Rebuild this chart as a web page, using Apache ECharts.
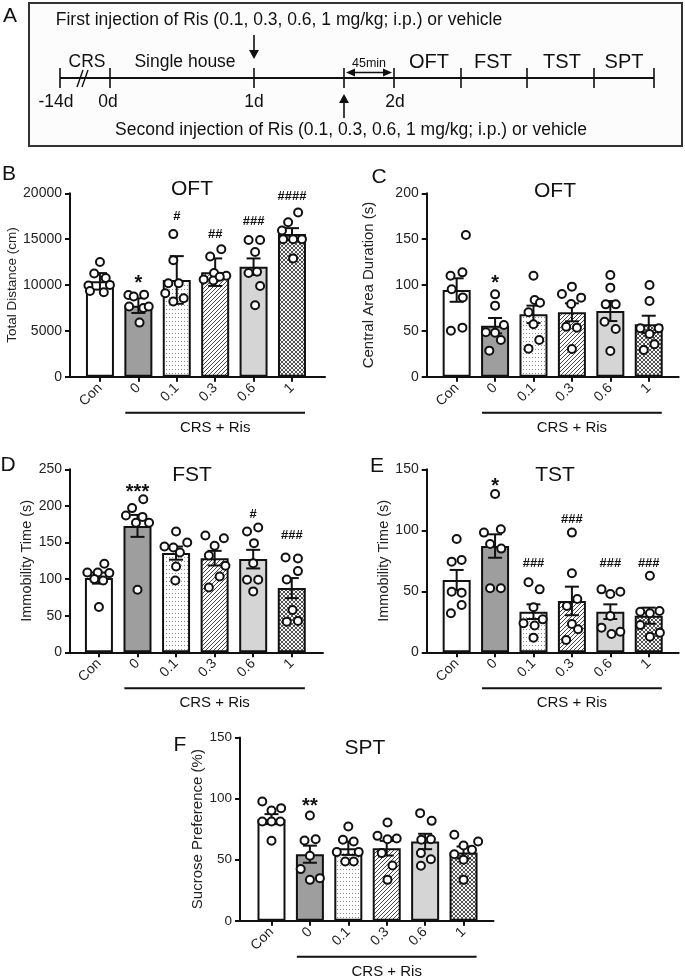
<!DOCTYPE html>
<html><head><meta charset="utf-8">
<script src="https://cdn.jsdelivr.net/npm/echarts@6/dist/echarts.min.js"></script>
<style>html,body{margin:0;padding:0;background:#fff}#c{width:685px;height:976px}</style>
</head><body><div id="c"></div>
<script>
// ---------------- data ----------------
const categories = ['Con', '0', '0.1', '0.3', '0.6', '1'];
const bracketLabel = 'CRS + Ris';

// Panel B  (OFT total distance)
const titleB = 'OFT';
const yNameB = 'Total Distance (cm)';
const yTicksB = [0, 5000, 10000, 15000, 20000];
const meansB = [10400, 7750, 10550, 11400, 12000, 15550];
const semB = [900, 800, 2600, 1500, 900, 650];
const pointsB = [
  [[0, 12500], [-0.15, 11250], [0.15, 10750], [-0.3, 9950], [0.26, 10000], [-0.26, 9350], [0.1, 9200]],
  [[-0.26, 8900], [-0.12, 8750], [0.15, 8950], [-0.24, 7650], [0.13, 7500], [0.27, 7650], [0.03, 5900]],
  [[-0.09, 15550], [-0.09, 12700], [-0.22, 10200], [0.05, 10200], [-0.3, 9100], [0.18, 8550], [-0.09, 8200]],
  [[-0.13, 13100], [0.16, 13900], [-0.03, 11300], [0.29, 11000], [-0.3, 10600], [-0.05, 10500], [0.12, 10900]],
  [[-0.13, 14900], [0.17, 14900], [0.04, 13600], [-0.13, 11300], [0.09, 11450], [0.17, 9900], [0.04, 7800]],
  [[0.16, 17900], [-0.1, 16850], [-0.26, 15950], [-0.23, 15000], [0.03, 15000], [0.26, 15000], [0.03, 12900]]
];
const annB = ['', '*', '#', '##', '###', '####'];
const annYB = [0, 10760, 17450, 15560, 16900, 19630];

// Panel C  (OFT central area duration)
const titleC = 'OFT';
const yNameC = 'Central Area Duration (s)';
const yTicksC = [0, 50, 100, 150, 200];
const meansC = [94.5, 55.6, 68, 70.2, 71.6, 57.1];
const semC = [12.8, 8.4, 9.5, 9.8, 10.9, 9.4];
const pointsC = [
  [[0.24, 154.5], [0.15, 113.8], [-0.16, 110], [-0.13, 95.3], [0.16, 86.5], [-0.15, 50.2], [0.15, 53.5]],
  [[0, 89.8], [0, 77.5], [0.23, 56.4], [-0.24, 48.4], [0, 48], [0.15, 40], [-0.15, 28.4]],
  [[0, 110], [0.03, 83.6], [0.17, 80.7], [-0.13, 70.2], [0, 57.1], [0.15, 40], [-0.13, 30.5]],
  [[-0.26, 90.2], [0, 98.2], [0.24, 86.2], [-0.02, 79.3], [-0.15, 54.5], [0.13, 53.5], [0, 30.2]],
  [[0, 110.9], [0, 97.1], [0.14, 78.9], [-0.12, 78.9], [-0.15, 60], [0.14, 52], [0, 28]],
  [[0.02, 100], [0.02, 82.5], [-0.22, 52.7], [0.26, 52.7], [0.02, 46.5], [0.15, 35.3], [-0.13, 29.1]]
];
const annC = ['', '*', '', '', '', ''];
const annYC = [0, 107.3, 0, 0, 0, 0];

// Panel D  (FST immobility)
const titleD = 'FST';
const yNameD = 'Immobility Time (s)';
const yTicksD = [0, 50, 100, 150, 200, 250];
const meansD = [101.4, 172.7, 135.5, 128.6, 127.3, 87.7];
const semD = [7.6, 15, 9, 10, 12.7, 13.7];
const pointsD = [
  [[0.14, 120.9], [-0.3, 109], [-0.03, 109], [0.27, 108.2], [-0.12, 100], [0.11, 98.2], [0, 61.8]],
  [[0.15, 209], [-0.14, 197], [-0.3, 187], [-0.04, 177], [0.13, 185], [0.3, 177], [0, 85.5]],
  [[0, 165], [0.29, 150], [-0.3, 144.5], [-0.07, 143.2], [0.1, 136.4], [0, 117.3], [-0.02, 98.2]],
  [[-0.24, 159.5], [0.24, 155.9], [0, 145.5], [-0.15, 132.3], [0.28, 118.2], [0.13, 103.6], [-0.15, 88.6]],
  [[-0.16, 165], [0.13, 170.5], [0.02, 149.1], [0, 121.8], [-0.16, 99.1], [0.13, 99.1], [0, 83.2]],
  [[-0.16, 129.5], [0.16, 128.2], [0.16, 110.9], [-0.13, 99.5], [0.02, 57.7], [-0.13, 41.8], [0.16, 42.7]]
];
const annD = ['', '***', '', '', '#', '###'];
const annYD = [0, 225.5, 0, 0, 189, 159];

// Panel E  (TST immobility)
const titleE = 'TST';
const yNameE = 'Immobility Time (s)';
const yTicksE = [0, 50, 100, 150];
const meansE = [59.3, 87.1, 33.3, 42.1, 33.3, 30];
const semE = [8.2, 9.6, 6, 11.7, 6, 6.6];
const pointsE = [
  [[0, 92.9], [-0.13, 74.3], [0.13, 75.7], [-0.13, 49.7], [0.13, 48.9], [0.13, 38.8], [-0.15, 32]],
  [[0, 129.8], [-0.29, 98.1], [0.15, 100.8], [-0.13, 88.8], [0.16, 85], [-0.13, 52.5], [0.15, 52.5]],
  [[-0.13, 57.4], [0.16, 51.6], [0, 36.9], [-0.26, 23.8], [0.24, 27], [0.03, 21.9], [0, 12]],
  [[0, 98.1], [0, 64.8], [0.14, 43.7], [-0.13, 38], [0, 23.2], [0.16, 18.9], [-0.15, 10.1]],
  [[-0.23, 51.6], [0, 47.8], [0.26, 49.7], [0, 29.8], [-0.23, 20.2], [0.03, 15], [0.26, 16.9]],
  [[0.03, 62.8], [-0.22, 33.3], [0.03, 32], [0.28, 33.9], [-0.22, 22.4], [0.29, 16.1], [0.03, 12.8]]
];
const annE = ['', '*', '###', '###', '###', '###'];
const annYE = [0, 139.9, 73, 109, 73, 73];

// Panel F  (SPT sucrose preference)
const titleF = 'SPT';
const yNameF = 'Sucrose Preference (%)';
const yTicksF = [0, 50, 100, 150];
const meansF = [83.2, 54.5, 59.4, 59.4, 64.9, 55.9];
const semF = [4.1, 7, 5.5, 6, 6.3, 4.9];
const pointsF = [
  [[-0.24, 97.6], [0, 90.3], [0.25, 92.2], [-0.24, 81.3], [0, 81.3], [0.23, 81.3], [0, 65.5]],
  [[0, 86.2], [-0.14, 65.7], [0.15, 66.8], [0, 53.2], [-0.24, 42.3], [0, 33.5], [0.26, 34.9]],
  [[0, 77.2], [-0.14, 66.3], [0.14, 64.9], [-0.3, 56.2], [0.27, 56.2], [-0.08, 48.5], [0.14, 48.5]],
  [[0.02, 80.4], [-0.24, 69.5], [0.02, 66.8], [0.26, 67.4], [-0.13, 55.4], [0.15, 45.3], [0.02, 33.5]],
  [[-0.13, 88.1], [0.17, 81.8], [-0.1, 66.3], [0.15, 66.8], [-0.11, 55.4], [0.15, 50.4], [-0.11, 45]],
  [[-0.24, 70.4], [0, 61.6], [0.38, 64.9], [0.22, 58.1], [-0.24, 54.5], [0, 49.9], [0, 33.5]]
];
const annF = ['', '**', '', '', '', ''];
const annYF = [0, 97.6, 0, 0, 0, 0];

// Panel A schematic texts
const schemeTop = 'First injection of Ris (0.1, 0.3, 0.6, 1 mg/kg; i.p.) or vehicle';
const schemeBottom = 'Second injection of Ris (0.1, 0.3, 0.6, 1 mg/kg; i.p.) or vehicle';
const dayLabels = ['-14d', '0d', '1d', '2d'];
const phaseLabels = ['CRS', 'Single house', 'OFT', 'FST', 'TST', 'SPT'];
const intervalLabel = '45min';

// ---------------- styling / layout ----------------
const FONT = '"Liberation Sans", Arial, Helvetica, sans-serif';
const INK = '#111';

function pattern(kind) {
  const c = document.createElement('canvas');
  const g = c.getContext('2d');
  if (kind === 'dots') {
    c.width = 3; c.height = 4;
    g.fillStyle = '#fff'; g.fillRect(0, 0, 3, 4);
    g.fillStyle = '#8c8c8c'; g.fillRect(1, 1, 1, 1);
  } else if (kind === 'hatch') {
    c.width = 4; c.height = 4;
    g.fillStyle = '#fff'; g.fillRect(0, 0, 4, 4);
    g.strokeStyle = '#333'; g.lineWidth = 0.9;
    g.beginPath();
    g.moveTo(-1, 5); g.lineTo(5, -1);
    g.moveTo(-1, 1); g.lineTo(1, -1);
    g.moveTo(3, 5); g.lineTo(5, 3);
    g.stroke();
  } else {
    c.width = 4; c.height = 4;
    g.fillStyle = '#f4f4f4'; g.fillRect(0, 0, 4, 4);
    g.strokeStyle = '#2a2a2a'; g.lineWidth = 0.8;
    g.beginPath();
    g.moveTo(-1, 5); g.lineTo(5, -1);
    g.moveTo(-1, 1); g.lineTo(1, -1);
    g.moveTo(3, 5); g.lineTo(5, 3);
    g.moveTo(-1, -1); g.lineTo(5, 5);
    g.moveTo(3, -1); g.lineTo(5, 1);
    g.moveTo(-1, 3); g.lineTo(1, 5);
    g.stroke();
  }
  return { image: c, repeat: 'repeat' };
}
const barFills = ['#ffffff', '#9e9e9e', pattern('dots'), pattern('hatch'), '#d5d5d5', pattern('cross')];

const panels = [
  { letter: 'B', title: titleB, yName: yNameB, ticks: yTicksB, means: meansB, sem: semB, pts: pointsB, ann: annB, annY: annYB,
    grid: { left: 70, top: 193.3, width: 255, height: 183.4 }, xr: [-0.78, 5.86], nameGap: 46.5, nameSize: 13.5, tickSize: 14,
    letterPos: [9, 174], titlePos: [192, 189] },
  { letter: 'C', title: titleC, yName: yNameC, ticks: yTicksC, means: meansC, sem: semC, pts: pointsC, ann: annC, annY: annYC,
    grid: { left: 426.7, top: 193.3, width: 252, height: 183.4 }, xr: [-0.78, 5.78], nameGap: 50, nameSize: 15, tickSize: 14,
    letterPos: [379, 177], titlePos: [555, 191] },
  { letter: 'D', title: titleD, yName: yNameD, ticks: yTicksD, means: meansD, sem: semD, pts: pointsD, ann: annD, annY: annYD,
    grid: { left: 70, top: 469.3, width: 253, height: 183 }, xr: [-0.75, 5.81], nameGap: 34.5, nameSize: 14.5, tickSize: 14,
    letterPos: [8, 465], titlePos: [192, 475] },
  { letter: 'E', title: titleE, yName: yNameE, ticks: yTicksE, means: meansE, sem: semE, pts: pointsE, ann: annE, annY: annYE,
    grid: { left: 426.7, top: 469.3, width: 252, height: 183 }, xr: [-0.78, 5.78], nameGap: 34.5, nameSize: 14.5, tickSize: 14,
    letterPos: [377, 466], titlePos: [555, 475] },
  { letter: 'F', title: titleF, yName: yNameF, ticks: yTicksF, means: meansF, sem: semF, pts: pointsF, ann: annF, annY: annYF,
    grid: { left: 240, top: 737.5, width: 253.5, height: 183.3 }, xr: [-0.82, 5.78], nameGap: 34.5, nameSize: 15, tickSize: 13.5,
    letterPos: [180, 745], titlePos: [365, 748] }
];

const idx6 = categories.map((_, i) => i);
const grids = [], xAxes = [], yAxes = [], series = [];

panels.forEach((p, k) => {
  grids.push(Object.assign({ containLabel: false }, p.grid));
  xAxes.push({
    type: 'value', gridIndex: k, min: p.xr[0], max: p.xr[1],
    axisLine: { show: true, onZero: false, lineStyle: { color: INK, width: 2 } },
    axisTick: { show: true, customValues: idx6, length: 5, lineStyle: { color: INK, width: 2 } },
    axisLabel: { customValues: idx6, rotate: 45, margin: 9, fontSize: 14, fontFamily: FONT, color: '#222',
      formatter: v => categories[Math.round(v)] },
    splitLine: { show: false }
  });
  const ymax = p.ticks[p.ticks.length - 1];
  yAxes.push({
    type: 'value', gridIndex: k, min: 0, max: ymax, interval: p.ticks[1] - p.ticks[0],
    axisLine: { show: true, onZero: false, lineStyle: { color: INK, width: 2 } },
    axisTick: { show: true, length: 5, lineStyle: { color: INK, width: 2 } },
    axisLabel: { fontSize: p.tickSize, fontFamily: FONT, color: '#222', margin: 8, formatter: v => String(v) },
    splitLine: { show: false },
    name: p.yName, nameLocation: 'middle', nameGap: p.nameGap, nameRotate: 90,
    nameTextStyle: { fontSize: p.nameSize, fontFamily: FONT, color: '#222' }
  });
  series.push({
    type: 'bar', xAxisIndex: k, yAxisIndex: k, barWidth: 28, z: 2, silent: true,
    itemStyle: { borderColor: INK, borderWidth: 2 },
    data: p.means.map((m, i) => ({ value: [i, m], itemStyle: { color: barFills[i] } }))
  });
  series.push({
    type: 'custom', xAxisIndex: k, yAxisIndex: k, z: 3, silent: true,
    encode: { x: 0, y: [1, 2] },
    data: p.means.map((m, i) => [i, m - p.sem[i], m + p.sem[i]]),
    renderItem: (params, api) => {
      const x = api.value(0);
      const a = api.coord([x, api.value(2)]);
      const b = api.coord([x, api.value(1)]);
      const h = 7;
      const st = { stroke: INK, lineWidth: 2 };
      return { type: 'group', children: [
        { type: 'line', shape: { x1: a[0], y1: a[1], x2: b[0], y2: b[1] }, style: st },
        { type: 'line', shape: { x1: a[0] - h, y1: a[1], x2: a[0] + h, y2: a[1] }, style: st },
        { type: 'line', shape: { x1: b[0] - h, y1: b[1], x2: b[0] + h, y2: b[1] }, style: st }
      ] };
    }
  });
  const dots = [];
  p.pts.forEach((grp, i) => grp.forEach(pt => dots.push([i + pt[0], pt[1]])));
  series.push({
    type: 'scatter', xAxisIndex: k, yAxisIndex: k, z: 4, silent: true,
    symbol: 'circle', symbolSize: 8,
    itemStyle: { color: '#fff', borderColor: INK, borderWidth: 2, opacity: 1 },
    data: dots
  });
  const ann = [];
  p.ann.forEach((t, i) => {
    if (!t) return;
    const star = t.indexOf('*') >= 0;
    ann.push({ value: [i, p.annY[i]], label: { formatter: t, fontSize: star ? 20 : 13,
      offset: [0, star ? 5 : 0], fontWeight: 'bold' } });
  });
  series.push({
    type: 'scatter', xAxisIndex: k, yAxisIndex: k, z: 5, silent: true,
    symbol: 'circle', symbolSize: 0, itemStyle: { color: 'rgba(0,0,0,0)' },
    label: { show: true, position: 'inside', color: INK, fontFamily: FONT, opacity: 1 },
    data: ann
  });
});

const chart = echarts.init(document.getElementById('c'), null, { renderer: 'canvas' });
chart.setOption({
  animation: false,
  backgroundColor: '#fff',
  grid: grids, xAxis: xAxes, yAxis: yAxes, series: series
});

// ---------------- annotations / schematic ----------------
const gfx = [];
function txt(s, x, y, size, extra) {
  gfx.push({ type: 'text', silent: true, z: 10,
    style: Object.assign({ text: s, x: x, y: y, fill: '#111', font: size + 'px ' + FONT,
      textAlign: 'center', textVerticalAlign: 'middle' }, extra || {}) });
}
function ln(x1, y1, x2, y2, w) {
  gfx.push({ type: 'line', silent: true, z: 10, shape: { x1, y1, x2, y2 },
    style: { stroke: '#111', lineWidth: w || 2 } });
}
function head(x, y, dir) { // arrow head, tip at (x,y)
  const s = 5, L = 9;
  let pts;
  if (dir === 'down') pts = [[x, y], [x - s, y - L], [x + s, y - L]];
  else if (dir === 'up') pts = [[x, y], [x - s, y + L], [x + s, y + L]];
  else if (dir === 'left') pts = [[x, y], [x + L, y - 4], [x + L, y + 4]];
  else pts = [[x, y], [x - L, y - 4], [x - L, y + 4]];
  gfx.push({ type: 'polygon', silent: true, z: 10, shape: { points: pts }, style: { fill: '#111' } });
}

// Panel A box
gfx.push({ type: 'rect', silent: true, z: 1, shape: { x: 29, y: 3, width: 653, height: 143 },
  style: { fill: '#fcfcfc', stroke: '#333', lineWidth: 2 } });
txt('A', 10, 16, 21);
txt(schemeTop, 279, 20, 17.5);
txt(schemeBottom, 351, 130, 17.5);
ln(60, 78, 654, 78, 2);
[60, 110, 254, 344, 394, 461, 527, 594, 654].forEach(x => ln(x, 68, x, 88, 1.6));
ln(77, 87, 83, 70, 1.4); ln(82, 87, 88, 70, 1.4);
txt(dayLabels[0], 56, 102, 17.5);
txt(dayLabels[1], 108, 102, 17.5);
txt(dayLabels[2], 254, 102, 17.5);
txt(dayLabels[3], 395, 102, 17.5);
txt(phaseLabels[0], 87, 62, 17.5);
txt(phaseLabels[1], 185, 62, 17.5);
txt(phaseLabels[2], 429, 62, 20);
txt(phaseLabels[3], 493, 62, 20);
txt(phaseLabels[4], 562, 62, 20);
txt(phaseLabels[5], 624, 62, 20);
txt(intervalLabel, 369, 64, 12.5);
ln(350, 72.5, 388, 72.5, 1.4); head(346, 72.5, 'left'); head(392, 72.5, 'right');
ln(254, 35, 254, 52, 1.6); head(254, 59, 'down');
ln(344, 118, 344, 101, 1.6); head(344, 94, 'up');

panels.forEach((p, k) => {
  txt(p.letter, p.letterPos[0], p.letterPos[1], 21);
  txt(p.title, p.titlePos[0], p.titlePos[1], 21);
  const a = chart.convertToPixel({ gridIndex: k }, [0.66, 0]);
  const b = chart.convertToPixel({ gridIndex: k }, [5.34, 0]);
  ln(a[0], a[1] + 36, b[0], b[1] + 36, 2);
  txt(bracketLabel, (a[0] + b[0]) / 2, a[1] + 51, 15);
});

chart.setOption({ graphic: gfx });
</script>
</body></html>
